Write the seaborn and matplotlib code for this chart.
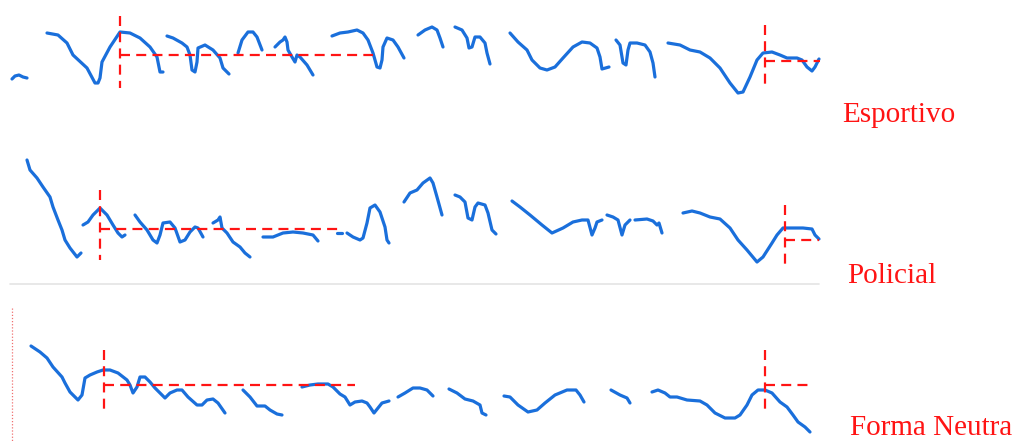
import matplotlib
matplotlib.use("Agg")
import matplotlib.pyplot as plt
import seaborn as sns
import pandas as pd

# Pitch contours (time, f0 height on the page scale), one list of stretches per reading
esportivo = [
    ([12, 15, 19, 23, 27], [79, 76, 75, 77, 78]),
    ([47, 58, 67, 73, 87, 95, 98, 100, 102, 110, 120, 130, 140, 150, 157, 160, 163],
     [33, 35, 43, 55, 68, 83, 83, 78, 62, 47, 32, 33, 38, 47, 57, 72, 72]),
    ([167, 173, 182, 187, 190, 192, 195, 197, 198, 205, 213, 220, 223, 229],
     [36, 38, 43, 47, 55, 70, 72, 62, 48, 45, 50, 58, 68, 74]),
    ([238, 242, 248, 253, 257, 262], [53, 40, 32, 32, 37, 50]),
    ([275, 280, 283, 285, 287, 288, 292, 295, 297, 300, 307, 313],
     [47, 42, 40, 37, 42, 50, 57, 62, 55, 57, 65, 75]),
    ([332, 340, 348, 357, 363, 368, 373, 377, 380, 382, 383, 387, 393, 398, 404],
     [36, 33, 32, 30, 33, 40, 53, 67, 68, 60, 47, 38, 40, 47, 58]),
    ([418, 425, 432, 437, 440, 443], [35, 30, 27, 30, 38, 47]),
    ([455, 462, 467, 469, 472, 475, 480, 485, 487, 490],
     [27, 30, 38, 48, 47, 37, 37, 43, 53, 64]),
    ([510, 518, 527, 532, 540, 547, 555, 563, 573, 582, 590, 597, 600, 602, 609],
     [33, 42, 50, 60, 68, 70, 67, 58, 47, 42, 43, 48, 57, 69, 67]),
    ([616, 620, 623, 626, 628, 630, 637, 645, 650, 653, 655],
     [40, 45, 63, 65, 50, 43, 43, 45, 52, 63, 77]),
    ([668, 680, 690, 700, 710, 720, 730, 738, 743, 750, 757, 763, 772, 780, 787, 797, 802, 807, 812, 815, 819],
     [43, 45, 50, 52, 58, 68, 83, 93, 92, 77, 60, 53, 52, 55, 58, 58, 60, 67, 71, 67, 59]),
]

policial = [
    ([27, 30, 37, 43, 50, 53, 58, 62, 65, 70, 77, 81],
     [160, 170, 178, 187, 197, 207, 220, 230, 240, 248, 257, 253]),
    ([83, 88, 93, 100, 107, 113, 118, 122, 125],
     [225, 222, 215, 208, 215, 225, 233, 237, 235]),
    ([135, 140, 147, 153, 157, 160, 163, 170, 175, 180, 185, 190, 195, 198, 203],
     [215, 222, 230, 240, 243, 235, 223, 222, 228, 242, 240, 232, 227, 228, 237]),
    ([213, 218, 220, 222, 227, 233, 240, 245, 250],
     [223, 220, 217, 228, 233, 242, 247, 253, 257]),
    ([263, 273, 283, 293, 303, 313, 318], [237, 237, 233, 232, 233, 235, 241]),
    ([337, 342], [233, 233]),
    ([347, 353, 360, 363, 367, 370, 375, 380, 385, 387, 389],
     [233, 237, 240, 238, 223, 208, 205, 212, 227, 240, 243]),
    ([404, 410, 417, 423, 430, 433, 437, 442],
     [202, 193, 190, 183, 178, 183, 197, 215]),
    ([455, 460, 465, 468, 472, 475, 478, 485, 488, 492, 496],
     [195, 197, 202, 218, 220, 207, 203, 205, 213, 230, 234]),
    ([512, 520, 530, 542, 552, 563, 573, 582, 588, 592, 595, 597, 602],
     [201, 207, 215, 225, 233, 228, 222, 220, 220, 235, 228, 222, 220]),
    ([607, 613, 618, 622, 625, 630], [215, 217, 220, 235, 225, 220]),
    ([635, 647, 653, 657, 659, 662], [220, 219, 221, 225, 223, 233]),
    ([683, 692, 700, 710, 720, 730, 738, 747, 757, 763, 772, 777, 783, 793, 803, 812, 815, 819],
     [213, 211, 213, 217, 219, 228, 240, 250, 262, 257, 243, 235, 228, 228, 228, 229, 235, 239]),
]

neutra = [
    ([31, 40, 47, 53, 62, 65, 70, 78, 82, 85, 90, 97, 103, 110, 118, 127, 130, 133, 137, 140,
      145, 150, 155, 160, 165, 170, 177, 182, 188, 197, 202, 207, 213, 218, 225],
     [346, 352, 358, 367, 377, 383, 392, 400, 395, 378, 375, 372, 370, 370, 373, 380, 385, 393, 387, 377,
      377, 382, 388, 393, 398, 393, 390, 390, 397, 405, 405, 400, 399, 403, 413]),
    ([243, 250, 257, 265, 270, 277, 282], [390, 397, 406, 406, 410, 414, 415]),
    ([302, 310, 318, 328, 333, 340, 345, 350, 355, 362, 367, 370, 374, 378, 382, 389],
     [387, 385, 384, 384, 387, 394, 397, 405, 402, 401, 403, 407, 413, 408, 403, 401]),
    ([398, 405, 413, 420, 427, 433], [397, 393, 388, 388, 390, 396]),
    ([449, 457, 465, 473, 480, 482, 486], [389, 393, 399, 401, 405, 413, 415]),
    ([504, 510, 518, 528, 537, 545, 555, 567, 576, 580, 584],
     [396, 397, 405, 412, 410, 403, 395, 390, 390, 395, 402]),
    ([611, 620, 627, 630], [390, 395, 398, 403]),
    ([652, 658, 665, 670, 677, 687, 700, 707, 715, 725, 735, 740, 747, 752, 758, 765, 772, 780,
      787, 793, 798, 805, 810],
     [392, 390, 393, 397, 397, 400, 401, 405, 413, 418, 418, 415, 405, 395, 390, 390, 393, 402,
      407, 415, 422, 427, 432]),
]

labels = ["Esportivo", "Policial", "Forma Neutra"]

# Reference marks per reading: (time of the mark, level, vertical span top/bottom, end of the level line)
marks = {
    "Esportivo": [(120, 55, 16, 88, 373), (765, 61, 25, 88, 820)],
    "Policial": [(100, 229, 190, 260, 343), (785, 240, 205, 267, 819)],
    "Forma Neutra": [(104, 385, 350, 412, 355), (765, 385, 350, 412, 810)],
}

rows = []
for name, segs in zip(labels, [esportivo, policial, neutra]):
    for k, (ts, vs) in enumerate(segs):
        for t, v in zip(ts, vs):
            rows.append({"reading": name, "seg": f"{name}-{k}", "t": t, "f0": v})
df = pd.DataFrame(rows)

sns.set_theme(style="white")
plt.rcParams["font.family"] = ["Liberation Serif", "DejaVu Serif"]

fig = plt.figure(figsize=(10.21, 4.41), dpi=100)
ax = fig.add_axes([0, 0, 1, 1])

blue = "#1a6fdb"
red = "#ff1414"

sns.lineplot(data=df, x="t", y="f0", units="seg", estimator=None, sort=False,
             color=blue, linewidth=2.3, ax=ax, legend=False,
             solid_capstyle="round", solid_joinstyle="round")

for name in labels:
    for (t0, lvl, top, bot, t1) in marks[name]:
        ax.plot([t0, t0], [top, bot], color=red, lw=1.6, ls=(0, (4.5, 2.8)))
        ax.plot([t0, t1], [lvl, lvl], color=red, lw=1.6, ls=(0, (4.5, 2.8)))

# thin rule under the second reading and dotted rule left of the third
ax.plot([10, 819], [284, 284], color="#e4e4e4", lw=1.2, zorder=0)
ax.plot([12, 12], [308, 441], color="#f07070", lw=0.9, ls=(0, (1, 1.5)))

label_pos = [(842, 122), (847, 283), (850, 435)]
for name, (x, y) in zip(labels, label_pos):
    ax.text(x, y, name, color=red, fontsize=21, ha="left", va="baseline")

ax.set_xlim(0, 1021)
ax.set_ylim(441, 0)
ax.axis("off")

fig.savefig("out.png", dpi=100)
